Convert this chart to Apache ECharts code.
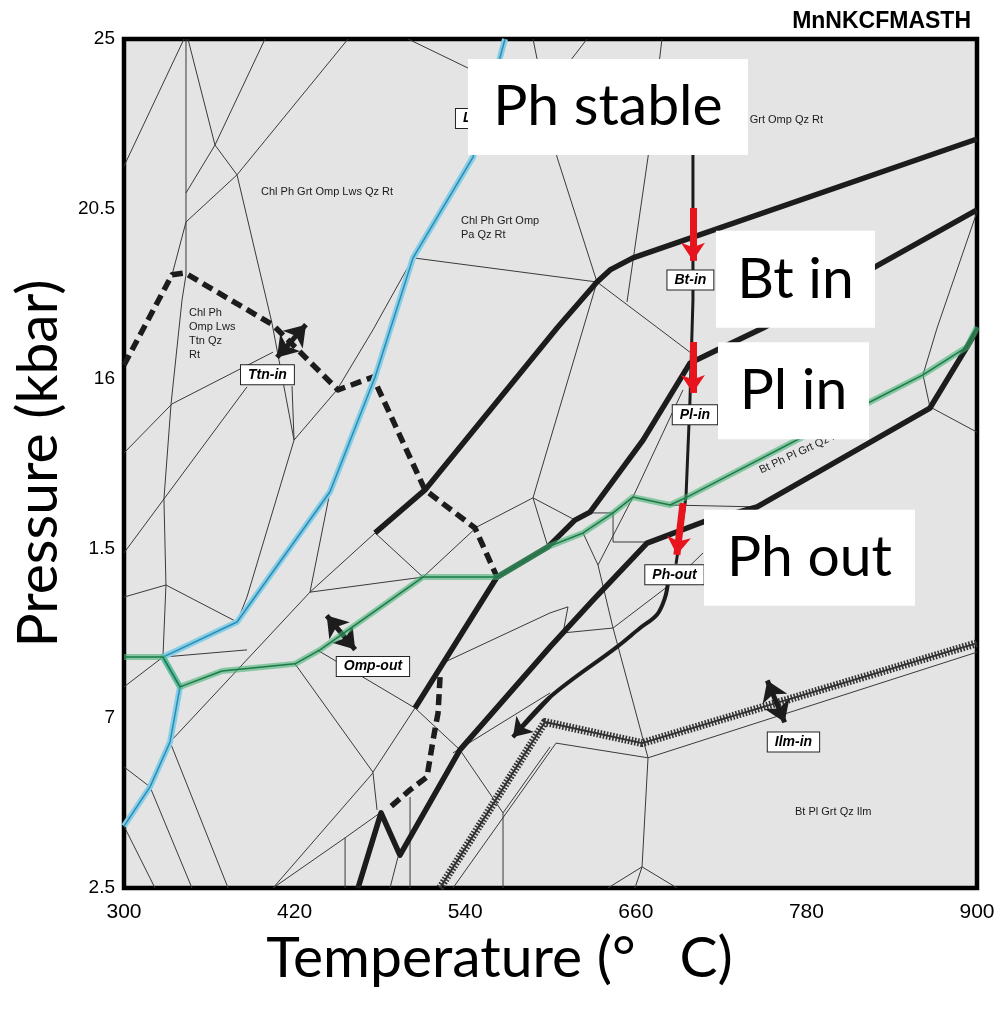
<!DOCTYPE html>
<html>
<head>
<meta charset="utf-8">
<script src="https://cdn.jsdelivr.net/npm/echarts@6/dist/echarts.min.js"></script>
<style>
  html, body { margin: 0; padding: 0; background: #fff; }
  #chart { width: 1002px; height: 1010px; }
</style>
</head>
<body>
<div id="chart"></div>
<script>
// ---- axes ----
const tempTicks = [300, 420, 540, 660, 780, 900];
const pressureTicks = [2.5, 7, 11.5, 16, 20.5, 25];
const pressureTickLabels = ['2.5', '7', '1.5', '16', '20.5', '25'];

// ---- phase boundaries, [T (°C), P (kbar)] ----
const lwsOut = [[300,4.14],[318.3,5.18],[332.4,6.37],[339.4,7.83],[327.4,8.62],[379.5,9.55],[444.9,13.0],[476.6,16.04],[503.3,19.2],[545.5,21.87],[568.0,25]];
const ompOut = [[300,8.62],[327.4,8.62],[339.4,7.83],[368.9,8.25],[420.3,8.44],[437.9,8.81],[510.3,10.74],[562.4,10.74],[598.2,11.54],[622.9,11.91],[644.0,12.44],[658.0,12.86],[684.1,12.65],[696.0,12.86],[824.7,15.38],[862.0,16.10],[893.0,16.84],[900,17.37]];
const btIn = [[476.6,11.91],[511.7,13.05],[604.6,17.34],[632.7,18.56],[641.9,18.88],[658.0,19.20],[900,22.35]];
const plIn = [[504.7,7.27],[562.4,10.74],[598.2,11.54],[617.2,12.25],[627.8,12.46],[665.1,14.37],[698.1,16.41],[717.1,16.76],[749.5,17.34],[828.3,18.96],[900,20.47]];
const lowerBoundary = [[464.6,2.5],[480.8,4.49],[494.1,3.37],[536.3,6.16],[599.7,8.89],[629.9,10.13],[667.9,11.64],[707.3,12.20],[745.3,12.60],[866.9,15.22],[893.0,16.84],[900,17.29]];
const phLimit = [[700.2,23.38],[700.2,18.08],[698.1,15.43],[695.3,12.86],[688.3,11.09]];
const ttnInUpper = [[300,16.36],[333.8,18.75],[342.9,18.80],[404.8,17.42],[450.5,15.70],[475.1,16.04],[511.7,13.05],[546.9,12.04],[562.4,10.74]];
const ttnInLower = [[522.3,8.09],[520.9,7.14],[517.4,6.42],[513.1,5.44],[501.2,5.10],[485.0,4.57]];
const ilmIn = [[522.3,2.5],[596.1,6.90],[664.4,6.34],[900,8.99]];
const ptPath = [[682.6,10.58],[680.6,10.2],[675.0,9.75],[663.0,9.39],[646.8,8.89],[599.7,7.56],[573.6,6.50]];
const ptPathTip = [[599.7,7.56],[573.6,6.50]];

// minor field boundaries
const thinBoundaries = [
  [[300,21.63],[342.2,25]],
  [[343.6,25],[343.6,18.75],[340.8,18.08],[333.1,15.33],[328.1,12.81],[329.5,10.53],[327.4,8.62]],
  [[345.0,25],[364.0,22.19],[379.5,21.40],[404.1,17.47],[419.6,14.37]],
  [[399.2,25],[364.0,22.19],[343.6,20.92]],
  [[457.6,25],[379.5,21.40],[343.6,20.15],[333.8,18.75]],
  [[499.8,25],[542.0,24.23]],
  [[587.7,25],[604.6,21.87],[632.7,18.56]],
  [[625.7,25],[592.6,23.38]],
  [[678.4,25],[668.6,21.87],[653.8,18.03]],
  [[503.3,19.20],[632.7,18.56]],
  [[632.7,18.56],[698.1,16.70]],
  [[632.7,18.56],[599.7,14.37],[587.7,12.84]],
  [[548.3,12.07],[587.7,12.84],[615.8,12.28]],
  [[587.7,12.84],[598.2,11.54]],
  [[693.2,15.70],[658.0,12.86],[633.4,11.06],[644.0,9.39],[668.6,5.95]],
  [[622.9,11.91],[633.4,11.06]],
  [[627.8,12.44],[644.0,12.44],[644.0,11.67],[667.9,11.67]],
  [[684.1,12.65],[745.3,12.60]],
  [[612.3,9.95],[608.8,9.26],[644.0,9.39],[682.0,10.48]],
  [[525.8,8.49],[599.7,9.79],[612.3,9.95]],
  [[900,20.42],[871.9,17.34],[862.0,16.10],[866.9,15.25],[900,14.58]],
  [[684.1,10.53],[707.3,11.38]],
  [[300,14.03],[333.8,15.33],[404.8,16.70]],
  [[300,11.38],[328.1,12.81],[386.5,15.78]],
  [[418.2,15.80],[419.6,14.37],[386.5,10.21],[379.5,9.55]],
  [[419.6,14.37],[449.8,15.70]],
  [[449.8,15.70],[475.1,17.29],[503.3,19.20]],
  [[329.5,10.53],[379.5,9.55]],
  [[300,10.21],[329.5,10.53]],
  [[300,7.83],[327.4,8.62]],
  [[327.4,8.62],[386.5,8.81]],
  [[430.8,10.34],[332.4,6.37]],
  [[444.9,13.0],[430.8,10.34],[510.3,10.74]],
  [[476.6,11.91],[430.8,10.34]],
  [[476.6,11.91],[510.3,10.74]],
  [[510.3,10.74],[548.3,12.07]],
  [[332.4,6.37],[373.2,2.5]],
  [[300,5.71],[318.3,5.18],[347.8,2.5]],
  [[300,4.14],[321.8,2.5]],
  [[420.3,8.44],[475.1,5.57],[478.0,4.57]],
  [[504.7,7.27],[475.1,5.57]],
  [[435.8,8.81],[504.7,7.27]],
  [[504.7,7.27],[536.3,6.16]],
  [[536.3,6.16],[566.6,4.49],[566.6,2.5]],
  [[566.6,4.49],[599.7,6.24]],
  [[404.8,2.5],[475.1,5.55]],
  [[404.8,2.5],[455.5,3.83],[480.1,4.49]],
  [[455.5,3.83],[455.5,2.5]],
  [[487.1,2.5],[492.7,3.32]],
  [[501.2,4.91],[501.2,2.5]],
  [[531.4,2.5],[603.9,6.34],[668.6,5.95],[900,8.75]],
  [[668.6,5.95],[664.4,3.06]],
  [[664.4,3.06],[640.4,2.5]],
  [[664.4,3.06],[659.4,2.5]],
  [[664.4,3.06],[689.0,2.5]],
  [[531.4,6.08],[599.7,7.67]]
];

// ---- arrows ----
const redArrows = [
  [[700.2,20.52],[700.2,19.12]],
  [[700.2,16.97],[700.2,15.62]],
  [[693.2,12.70],[688.9,11.33]]
];
const doubleArrows = [
  [[407.6,16.56],[428.0,17.43]],
  [[442.6,9.72],[462.6,8.82]],
  [[752.5,8.00],[764.7,6.89]]
];

// ---- annotations ----
const fieldNames = ['Chl Ph Grt Omp Lws Qz Rt', 'Chl Ph Grt Omp\nPa Qz Rt', 'Chl Ph\nOmp Lws\nTtn Qz\nRt', 'Ph Grt Omp Qz Rt', 'Bt Pl Grt Qz Ilm'];
const fieldPos = [[396.4,20.95],[537.0,19.99],[345.7,17.17],[791.7,22.85],[772.0,4.51]];
const fieldAlign = ['left','left','left','right','left'];
const rotatedField = { name: 'Bt Ph Pl Grt Qz Rt', pos: [749.5,13.39], angle: 25 };
const tagNames = ['Bt-in', 'Pl-in', 'Ph-out', 'Ttn-in', 'Omp-out', 'Ilm-in'];
const tagPos = [[698.4,18.61],[701.6,15.04],[687.2,10.80],[400.9,16.10],[475.1,8.37],[770.9,6.37]];
const hiddenTag = { name: 'Lws-out', pos: [533.5,22.89] };
const calloutNames = ['Ph stable', 'Bt in', 'Pl in', 'Ph out'];
const calloutPos = [[640.4,23.20],[772.3,18.63],[770.9,15.68],[782.2,11.25]];
const calloutSize = [[280,96],[159,97],[151,97],[211,96]];

// ---- helpers ----
function path(name, data, lineStyle, z, smooth) {
  return { type: 'line', name, data, z, symbol: 'none', showSymbol: false, silent: true,
           animation: false, smooth: smooth || false,
           lineStyle: Object.assign({ cap: 'butt', join: 'round' }, lineStyle) };
}
function arrowLayer(name, segs, symbols, size, lineStyle, z) {
  return { type: 'line', name, data: [], z, silent: true, animation: false,
    markLine: { silent: true, animation: false, symbol: symbols, symbolSize: size,
      label: { show: false }, lineStyle: Object.assign({ type: 'solid' }, lineStyle),
      emphasis: { disabled: true },
      data: segs.map(s => [{ coord: s[0] }, { coord: s[1] }]) } };
}
function textLayer(name, z, data, label) {
  return { type: 'scatter', name, z, symbolSize: 0, silent: true, animation: false,
           itemStyle: { opacity: 1 }, data, label };
}

const series = [];
thinBoundaries.forEach((seg, i) => series.push(path('minor' + i, seg, { color: '#3a3a3a', width: 1 }, 2)));
series.push(path('ttnInUpper', ttnInUpper, { color: '#1c1c1c', width: 5.5, type: [11, 6] }, 3));
series.push(path('ttnInLower', ttnInLower, { color: '#1c1c1c', width: 5.5, type: [11, 6] }, 3));
series.push(path('ilmInHatch', ilmIn, { color: '#333', width: 8, type: [1.6, 1.6] }, 3));
series.push(path('ilmIn', ilmIn, { color: '#333', width: 2 }, 3));
series.push(path('btIn', btIn, { color: '#1c1c1c', width: 5.5 }, 4));
series.push(path('plIn', plIn, { color: '#1c1c1c', width: 5.5 }, 4));
series.push(path('lowerBoundary', lowerBoundary, { color: '#1c1c1c', width: 5.5 }, 4));
series.push(path('phLimit', phLimit, { color: '#1c1c1c', width: 3 }, 4));
series.push(path('ptPath', ptPath, { color: '#1c1c1c', width: 4 }, 4, 0.35));
series.push(arrowLayer('ptPathTip', [ptPathTip], ['none', 'arrow'], 18, { color: '#1c1c1c', width: 4 }, 4));
series.push(path('lwsHalo', lwsOut, { color: '#86cde6', width: 6 }, 5));
series.push(path('lwsOut', lwsOut, { color: '#2a8cb4', width: 1.5 }, 5));
series.push(path('ompHalo', ompOut, { color: 'rgba(72,178,118,0.6)', width: 6 }, 5));
series.push(path('ompOut', ompOut, { color: '#1d7a46', width: 1.5 }, 5));
series.push(arrowLayer('doubleArrows', doubleArrows, ['arrow', 'arrow'], 20, { color: '#1c1c1c', width: 5 }, 6));
series.push(arrowLayer('redArrows', redArrows, ['none', 'arrow'], 18, { color: '#e8141d', width: 7 }, 9));

// field names
const fieldData = fieldNames.map((n, i) => ({
  value: fieldPos[i], name: n,
  label: { show: true, position: [0, 0], align: fieldAlign[i], verticalAlign: 'middle' }
}));
fieldData.push({ value: rotatedField.pos, name: rotatedField.name,
  label: { show: true, position: [0, 0], align: 'left', verticalAlign: 'bottom', rotate: rotatedField.angle } });
series.push(textLayer('fields', 7, fieldData,
  { show: true, formatter: '{b}', fontFamily: 'Liberation Sans, Arial, sans-serif', fontSize: 11,
    lineHeight: 14, color: '#1a1a1a' }));

// reaction tags
const tagStyle = { show: true, position: 'inside', formatter: '{b}', backgroundColor: '#fff',
  borderColor: '#222', borderWidth: 1, padding: [3, 7, 2, 7], fontFamily: 'Liberation Sans, Arial, sans-serif',
  fontSize: 14, fontWeight: 'bold', fontStyle: 'italic', color: '#000' };
series.push(textLayer('hiddenTag', 8, [{ value: hiddenTag.pos, name: hiddenTag.name }],
  Object.assign({}, tagStyle, { position: [0, 0], align: 'left', verticalAlign: 'middle' })));
series.push(textLayer('tags', 8, tagNames.map((n, i) => ({ value: tagPos[i], name: n })), tagStyle));

// large callouts
series.push(textLayer('callouts', 10,
  calloutNames.map((n, i) => ({ value: calloutPos[i], name: n,
    label: { width: calloutSize[i][0], height: calloutSize[i][1], lineHeight: calloutSize[i][1] } })),
  { show: true, position: 'inside', formatter: '{b}', backgroundColor: '#fff', align: 'center',
    verticalAlign: 'middle', fontFamily: 'Lato, "Noto Sans", sans-serif', fontSize: 57, color: '#000' }));

const chart = echarts.init(document.getElementById('chart'), null, { renderer: 'canvas' });
chart.setOption({
  animation: false,
  backgroundColor: '#fff',
  title: { text: 'MnNKCFMASTH', right: 26, top: 5,
    textStyle: { fontFamily: 'Liberation Sans, Arial, sans-serif', fontWeight: 'bold', fontSize: 23, color: '#000' } },
  grid: { left: 124, top: 39, width: 853, height: 849, show: true, backgroundColor: '#e4e4e4',
          borderColor: '#000', borderWidth: 4.5 },
  xAxis: {
    type: 'value', min: 300, max: 900, interval: 120,
    name: 'Temperature (°   C)', nameLocation: 'middle', nameGap: 42,
    nameTextStyle: { fontFamily: 'Lato, "Noto Sans", sans-serif', fontSize: 57, color: '#000', padding: [0, 102, 0, 0] },
    axisLine: { show: false }, axisTick: { show: false }, splitLine: { show: false },
    axisLabel: { margin: 14, color: '#000', fontSize: 21,
      fontFamily: '"Liberation Sans Narrow", "Arial Narrow", "Liberation Sans", sans-serif',
      formatter: v => tempTicks.includes(v) ? String(v) : '' }
  },
  yAxis: {
    type: 'value', min: 2.5, max: 25, interval: 4.5,
    name: 'Pressure (kbar)', nameLocation: 'middle', nameGap: 50,
    nameTextStyle: { fontFamily: 'Lato, "Noto Sans", sans-serif', fontSize: 57, color: '#000' },
    axisLine: { show: false }, axisTick: { show: false }, splitLine: { show: false },
    axisLabel: { margin: 9, color: '#000', fontSize: 19, fontFamily: 'Liberation Sans, Arial, sans-serif',
      formatter: v => { const i = pressureTicks.findIndex(t => Math.abs(t - v) < 1e-6); return i >= 0 ? pressureTickLabels[i] : ''; } }
  },
  series
});
</script>
</body>
</html>
